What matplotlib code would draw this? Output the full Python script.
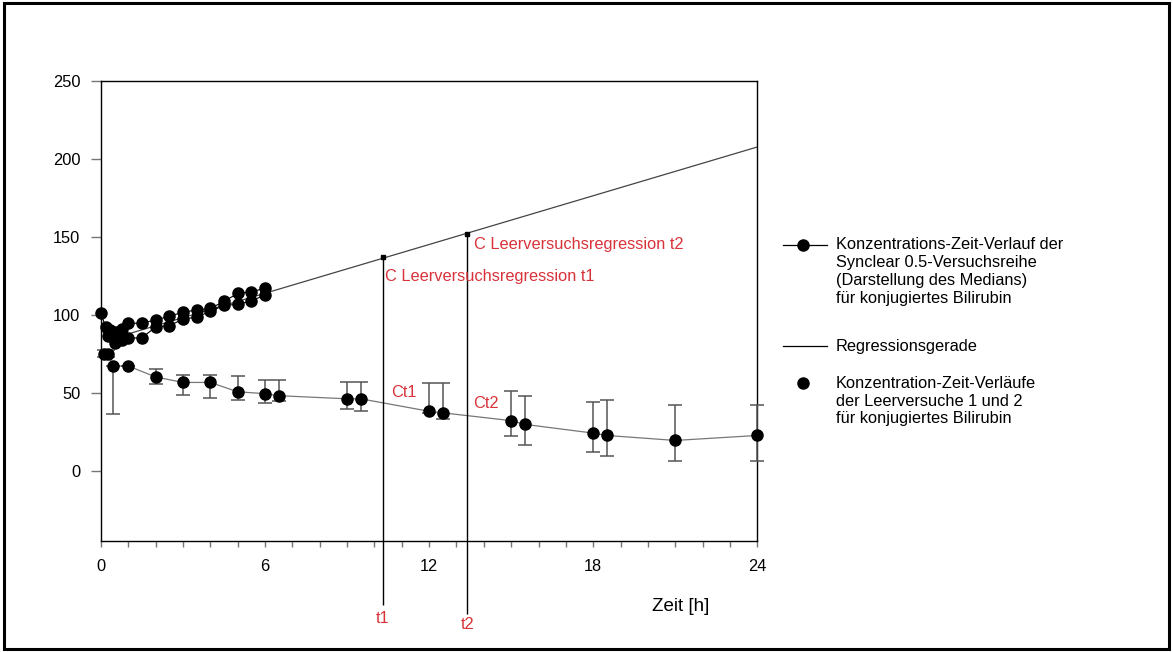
import matplotlib
matplotlib.use("Agg")
import matplotlib.pyplot as plt
from matplotlib.lines import Line2D
from matplotlib.patches import Rectangle
from matplotlib.ticker import MultipleLocator

plt.rcParams["font.family"] = ["Liberation Sans", "DejaVu Sans"]

RED = "#d8333a"

# Synclear 0.5 series (median), two rows of points in the first 6 h
SYN_TIME_A = [0.0, 0.17, 0.33, 0.5, 0.75, 1.0, 1.5, 2.0, 2.5, 3.0, 3.5, 4.0, 4.5, 5.0, 5.5, 6.0]
SYN_CONC_A = [100.8, 92, 90, 89, 91, 94.3, 94.7, 96.5, 99, 101.5, 103, 104, 108.5, 113.6, 114.7, 116.8]
SYN_TIME_B = [0.25, 0.5, 0.75, 1.0, 1.5, 2.0, 2.5, 3.0, 3.5, 4.0, 4.5, 5.0, 5.5, 6.0]
SYN_CONC_B = [86, 82, 84, 84.7, 85.3, 92, 93, 97, 98.5, 102, 106, 106.5, 108.9, 112.5]

# regression line of the Synclear series
REG_TIME = [0.3, 24.0]
REG_CONC = [84.0, 207.5]

# blank runs 1 and 2 (mean with range)
LEER_TIME = [0.1, 0.25, 0.45, 1.0, 2.0, 3.0, 4.0, 5.0, 6.0, 6.5, 9.0, 9.5,
             12.0, 12.5, 15.0, 15.5, 18.0, 18.5, 21.0, 24.0]
LEER_CONC = [75, 75, 67, 67, 60, 56.5, 56.5, 50.5, 49.3, 48, 46, 46,
             38, 37, 32, 29.6, 24, 22.5, 19.3, 22.5]
LEER_HIGH = [77, 77, 67, 67, 65, 61.5, 61.5, 60.5, 58, 58, 57, 57,
             56, 56, 51, 48, 44, 45, 42, 42]
LEER_LOW = [73, 73, 36, 67, 55.7, 48.7, 46.3, 45.2, 43, 44.4, 39.7, 38.2,
            37, 32.8, 22, 16.5, 11.8, 9.2, 6, 6]

# marked times and regression values
T_MARKS = [10.3, 13.4]
T_REG_CONC = [137.0, 152.0]
T_LINE_BOTTOM = [-86, -92]
T_LABELS = ["t1", "t2"]
T_LABEL_Y = [-95, -99]
REG_LABELS = ["C Leerversuchsregression t1", "C Leerversuchsregression t2"]
REG_LABEL_POS = [(10.4, 124.5), (13.65, 144.7)]
CT_LABELS = ["Ct1", "Ct2"]
CT_LABEL_POS = [(10.6, 50.0), (13.6, 43.0)]

X_TICKS = [0, 6, 12, 18, 24]
Y_TICKS = [0, 50, 100, 150, 200, 250]

LEGEND_LINES = [
    ["Konzentrations-Zeit-Verlauf der", "Synclear 0.5-Versuchsreihe",
     "(Darstellung des Medians)", "für konjugiertes Bilirubin"],
    ["Regressionsgerade"],
    ["Konzentration-Zeit-Verläufe", "der Leerversuche 1 und 2",
     "für konjugiertes Bilirubin"],
]

FS = 11.8


def main() -> None:
    fig = plt.figure(figsize=(11.73, 6.52), dpi=100)
    ax = fig.add_axes([0.0861, 0.1707, 0.5595, 0.7055])

    ax.plot(REG_TIME, REG_CONC, color="#444444", lw=0.9, zorder=2)

    eb = ax.errorbar(
        LEER_TIME, LEER_CONC,
        yerr=[[c - lo for c, lo in zip(LEER_CONC, LEER_LOW)],
              [hi - c for c, hi in zip(LEER_CONC, LEER_HIGH)]],
        fmt="o", color="black", ms=8, ecolor="#555555", elinewidth=1.1,
        capsize=5, capthick=1.1, zorder=3,
    )
    for child in eb.get_children():
        child.set_clip_on(False)
    ax.plot(LEER_TIME, LEER_CONC, color="#777777", lw=0.9, zorder=2)

    for times, concs in ((SYN_TIME_A, SYN_CONC_A), (SYN_TIME_B, SYN_CONC_B)):
        ax.plot(times, concs, "-o", color="black", lw=0.8, ms=8, zorder=4, clip_on=False)

    ax.plot(T_MARKS, T_REG_CONC, "s", color="black", ms=3.5, zorder=5)
    vl = ax.vlines(T_MARKS, T_LINE_BOTTOM, T_REG_CONC, color="black", lw=1.0, zorder=2)
    vl.set_clip_on(False)

    for t, y, lab in zip(T_MARKS, T_LABEL_Y, T_LABELS):
        ax.text(t, y, lab, color=RED, fontsize=FS, ha="center", va="center", clip_on=False)
    for (x, y), lab in zip(REG_LABEL_POS, REG_LABELS):
        ax.text(x, y, lab, color=RED, fontsize=FS, ha="left", va="center")
    for (x, y), lab in zip(CT_LABEL_POS, CT_LABELS):
        ax.text(x, y, lab, color=RED, fontsize=FS, ha="left", va="center")

    ax.text(21.2, -87.5, "Zeit [h]", fontsize=13.5, ha="center", va="center", clip_on=False)

    ax.set_xlim(0, 24)
    ax.set_ylim(-45, 250)
    ax.set_xticks(X_TICKS)
    ax.set_yticks(Y_TICKS)
    ax.xaxis.set_minor_locator(MultipleLocator(1))
    ax.tick_params(axis="x", which="both", direction="out", length=4, width=1,
                   color="#777777", labelsize=FS, pad=9)
    ax.tick_params(axis="y", direction="out", length=7, width=1,
                   color="#777777", labelsize=FS, pad=8)
    for spine in ax.spines.values():
        spine.set_linewidth(1.0)

    # legend drawn by hand so the symbols sit on the first text line
    text_x = 0.7127
    line_step = 17.7 / 652
    first_y = [1 - 245 / 652, 1 - 346 / 652, 1 - 383.3 / 652]
    handle_x = (783 / 1173, 827 / 1173)
    marker_x = 803 / 1173
    for i, (lines, y0) in enumerate(zip(LEGEND_LINES, first_y)):
        for k, line in enumerate(lines):
            fig.text(text_x, y0 - k * line_step, line, fontsize=FS, ha="left", va="center")
        if i in (0, 1):
            fig.add_artist(Line2D(handle_x, (y0, y0), color="black", lw=0.9))
        if i in (0, 2):
            fig.add_artist(Line2D([marker_x], [y0], marker="o", color="black", ms=8, lw=0))

    fig.add_artist(Rectangle((0.003, 0.004), 0.994, 0.992, transform=fig.transFigure,
                             fill=False, edgecolor="black", lw=2.2))

    fig.savefig("out.png", dpi=100)
    plt.close(fig)


if __name__ == "__main__":
    main()
